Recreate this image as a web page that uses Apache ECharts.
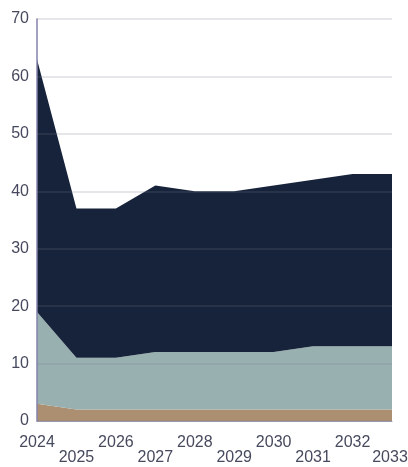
<!DOCTYPE html>
<html>
<head>
<meta charset="utf-8">
<script src="https://cdn.jsdelivr.net/npm/echarts@6/dist/echarts.min.js"></script>
<style>
html,body{margin:0;padding:0;background:#fff;}
#c{width:408px;height:467px;}
</style>
</head>
<body>
<div id="c"></div>
<script>
const years = ['2024','2025','2026','2027','2028','2029','2030','2031','2032','2033'];
const baseSeries = [3, 2, 2, 2, 2, 2, 2, 2, 2, 2];
const midSeries = [16, 9, 9, 10, 10, 10, 10, 11, 11, 11];
const topSeries = [44, 26, 26, 29, 28, 28, 29, 29, 30, 30];
const yTicks = [0, 10, 20, 30, 40, 50, 60, 70];

const chart = echarts.init(document.getElementById('c'), null, {renderer: 'canvas'});
const labelColor = '#474a5e';
function areaSeries(name, data, color) {
  return {
    name: name, type: 'line', stack: 'total', data: data,
    symbol: 'none', lineStyle: {width: 0}, areaStyle: {color: color, opacity: 1},
    itemStyle: {color: color}, z: 2
  };
}
chart.setOption({
  animation: false,
  grid: {left: 37, right: 16, top: 19, bottom: 46, containLabel: false, outerBoundsMode: 'none'},
  xAxis: {
    type: 'category', data: years, boundaryGap: false,
    axisLine: {show: true, lineStyle: {color: '#a0a0b4', width: 1}},
    axisTick: {show: false},
    axisLabel: {
      interval: 0, margin: 14, fontSize: 16, lineHeight: 15,
      color: labelColor, fontFamily: 'Liberation Sans, Arial, sans-serif',
      formatter: function (v, i) {
        if (i === years.length - 1) return (i % 2 ? '\n' : '') + '{e|' + v + '}';
        return i % 2 ? '\n' + v : v;
      },
      rich: {e: {fontSize: 16, lineHeight: 15, color: labelColor, fontFamily: 'Liberation Sans, Arial, sans-serif', padding: [0, 4, 0, 0]}}
    },
    splitLine: {show: false}
  },
  yAxis: {
    type: 'value', min: yTicks[0], max: yTicks[yTicks.length - 1], interval: 10,
    z: 3,
    axisLine: {show: true, lineStyle: {color: '#8383ab', width: 1.5}},
    axisTick: {show: false},
    axisLabel: {margin: 8, fontSize: 16, color: labelColor, fontFamily: 'Liberation Sans, Arial, sans-serif'},
    splitLine: {show: true, lineStyle: {color: 'rgba(118,118,145,0.26)', width: 1.5}}
  },
  series: [
    areaSeries('base', baseSeries, '#ac8f70'),
    areaSeries('mid', midSeries, '#99b0b0'),
    areaSeries('top', topSeries, '#16233a')
  ]
});
</script>
</body>
</html>
